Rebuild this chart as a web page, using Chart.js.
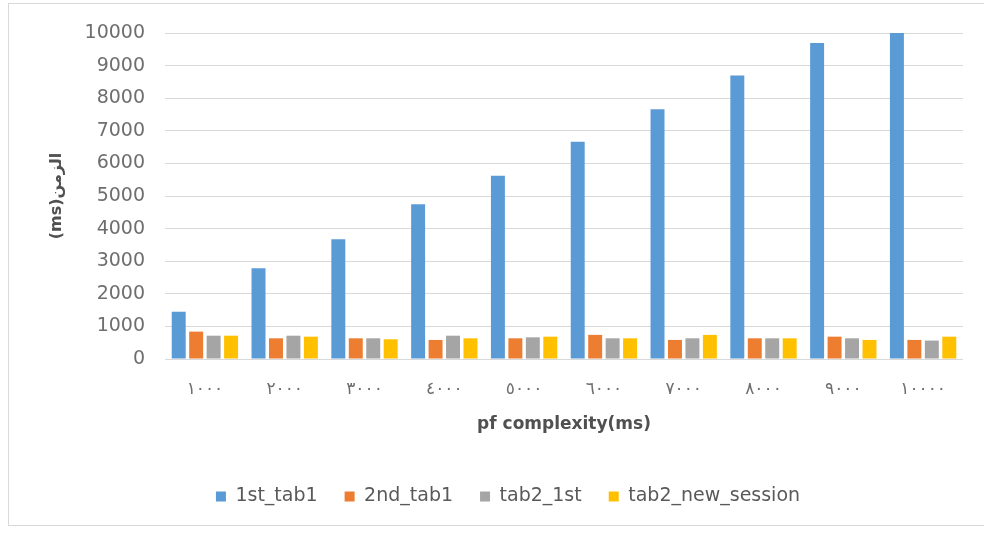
<!DOCTYPE html>
<html>
<head>
<meta charset="utf-8">
<script src="https://cdn.jsdelivr.net/npm/chart.js@4/dist/chart.umd.min.js"></script>
<style>
  html, body { margin: 0; padding: 0; background: #ffffff; }
  #frame {
    position: absolute; left: 8px; top: 3px; width: 990px; height: 523px;
    border: 1px solid #d9d9d9; box-sizing: border-box;
  }
  #wrap { position: absolute; left: 0; top: 0; width: 984px; height: 533px; }
</style>
</head>
<body>
<div id="frame"></div>
<div id="wrap"><canvas id="chart" width="984" height="533"></canvas></div>
<script>
// Page-fault complexity levels (Arabic-Indic numerals)
const categories = ['١٠٠٠', '٢٠٠٠', '٣٠٠٠', '٤٠٠٠', '٥٠٠٠', '٦٠٠٠', '٧٠٠٠', '٨٠٠٠', '٩٠٠٠', '١٠٠٠٠'];

// Measured times in ms
const firstTab1      = [1450, 2780, 3670, 4745, 5620, 6665, 7660, 8700, 9690, 10000];
const secondTab1     = [840, 635, 635, 585, 635, 740, 585, 635, 685, 585];
const tab2First      = [715, 715, 635, 715, 665, 635, 635, 635, 635, 565];
const tab2NewSession = [715, 685, 605, 635, 685, 635, 740, 635, 585, 685];

const seriesNames = ['1st_tab1', '2nd_tab1', 'tab2_1st', 'tab2_new_session'];
const yTitle = '(ms)الزمن';
const xTitle = 'pf complexity(ms)';

const colors = ['#5b9bd5', '#ed7d31', '#a5a5a5', '#ffc000'];
const seriesValues = [firstTab1, secondTab1, tab2First, tab2NewSession];

const datasets = seriesNames.map((name, i) => ({
  label: name,
  data: seriesValues[i],
  backgroundColor: colors[i],
  borderWidth: 0,
  categoryPercentage: 0.875,
  barPercentage: 0.8
}));

const tickColor = '#6e6e6e';
const fontFamily = '"DejaVu Sans", sans-serif';

new Chart(document.getElementById('chart'), {
  type: 'bar',
  data: { labels: categories, datasets },
  options: {
    responsive: false,
    animation: false,
    layout: { padding: { left: 53, top: 33, right: 21, bottom: 17 } },
    plugins: {
      legend: {
        position: 'bottom',
        labels: {
          boxWidth: 10,
          boxHeight: 10,
          padding: 27,
          color: '#595959',
          font: { family: fontFamily, size: 19 }
        }
      },
      tooltip: { enabled: false }
    },
    scales: {
      x: {
        grid: { display: false },
        border: { display: false },
        ticks: {
          color: tickColor,
          padding: 12,
          maxRotation: 0,
          font: { family: fontFamily, size: 17 }
        },
        title: {
          display: true,
          text: xTitle,
          color: '#505050',
          padding: { top: 0, bottom: 25 },
          font: { family: fontFamily, size: 17, weight: 'bold' }
        },
        afterFit(scale) { scale.height = 101; }
      },
      y: {
        min: 0,
        max: 10000,
        grid: { color: '#d9d9d9', lineWidth: 1, drawTicks: false },
        border: { display: false },
        ticks: {
          stepSize: 1000,
          color: tickColor,
          padding: 20,
          font: { family: fontFamily, size: 19 },
          callback: (value) => String(value)
        },
        title: {
          display: true,
          text: yTitle,
          color: '#505050',
          padding: { top: -6, bottom: 0 },
          font: { family: fontFamily, size: 16, weight: 'bold' }
        },
        afterFit(scale) { scale.width = 112; }
      }
    }
  }
});
</script>
</body>
</html>
